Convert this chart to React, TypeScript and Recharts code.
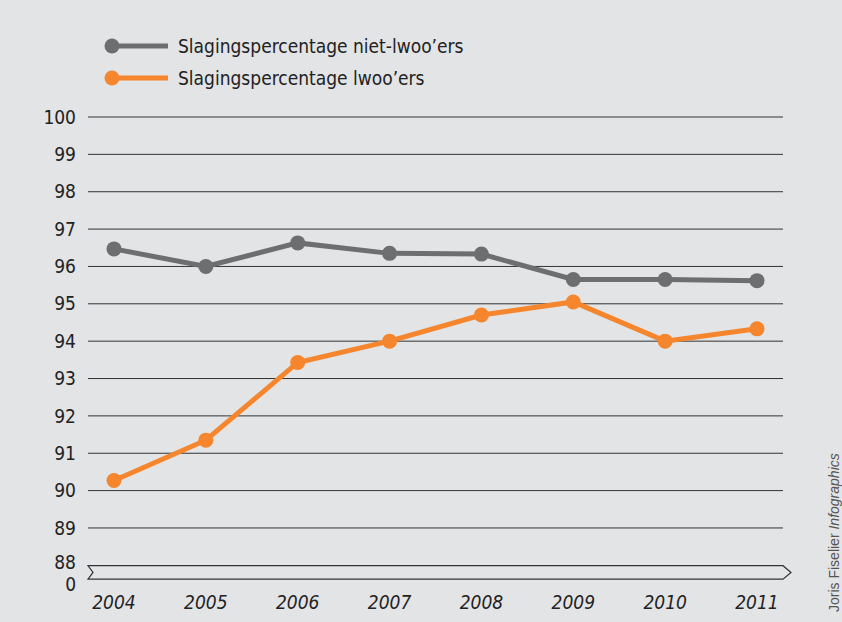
import React from 'react';
import { LineChart, Line, XAxis, YAxis, ReferenceLine, ReferenceArea, Legend } from 'recharts';

const years = ['2004', '2005', '2006', '2007', '2008', '2009', '2010', '2011'];
const nietLwoo = [96.47, 96.0, 96.63, 96.35, 96.33, 95.65, 95.65, 95.62];
const lwoo = [90.27, 91.35, 93.43, 94.0, 94.7, 95.05, 94.0, 94.33];
const yTicks = [87.5, 88, 89, 90, 91, 92, 93, 94, 95, 96, 97, 98, 99, 100];
const gridValues = [89, 90, 91, 92, 93, 94, 95, 96, 97, 98, 99, 100];

const data = years.map((year, i) => ({ year, nietLwoo: nietLwoo[i], lwoo: lwoo[i] }));

const GREY = '#6d6e70';
const ORANGE = '#f5862d';
const FONT = '"Liberation Sans Narrow", "DejaVu Sans Condensed", Arial, sans-serif';
const X_PAD = 26;

const legendItems = [
    { label: 'Slagingspercentage niet-lwoo\u2019ers', color: GREY },
    { label: 'Slagingspercentage lwoo\u2019ers', color: ORANGE },
];

const renderLegend = () => (
    <div>
        {legendItems.map((item) => (
            <div key={item.label} style={{ display: 'flex', alignItems: 'center', height: 32 }}>
                <svg width={72} height={20}>
                    <line x1={8} y1={10} x2={64} y2={10} stroke={item.color} strokeWidth={5} />
                    <circle cx={8} cy={10} r={7.5} fill={item.color} />
                </svg>
                <span style={{ fontSize: 19, color: '#222', marginLeft: 2 }}>{item.label}</span>
            </div>
        ))}
    </div>
);

// y ticks: the lowest one stands for the zero under the axis break
const YTick = (props: any) => {
    const { x, y, payload } = props;
    const v = payload.value;
    const label = v === 87.5 ? '0' : String(v);
    const shift = v === 88 ? -3 : 0;
    return (
        <text x={x} y={y + shift} dy="0.35em" textAnchor="end" fill="#222" fontSize={19} fontFamily={FONT}>
            {label}
        </text>
    );
};

// axis break band, drawn from the y-scale via ReferenceArea (widened over the x padding)
const BreakShape = (props: any) => {
    const { y, height } = props;
    const x = props.x - X_PAD;
    const width = props.width + 2 * X_PAD;
    const d = `M${x},${y} L${x + width},${y} L${x + width + 8},${y + height / 2} L${x + width},${y + height} L${x},${y + height} L${x + 5},${y + height / 2} Z`;
    return <path d={d} fill="#e3e4e6" stroke="#333" strokeWidth={1.2} />;
};

export default function App() {
    return (
        <div style={{ position: 'fixed', left: 0, top: 0, width: 842, height: 622, background: '#e3e4e6', fontFamily: FONT }}>
            <LineChart width={842} height={622} data={data} margin={{ top: 117, right: 59, bottom: 8, left: 0 }}>
                <XAxis
                    dataKey="year"
                    axisLine={false}
                    tickLine={false}
                    tickSize={0}
                    tickMargin={12}
                    height={30}
                    padding={{ left: X_PAD, right: X_PAD }}
                    tick={{ fill: '#222', fontSize: 19, fontStyle: 'italic', fontFamily: FONT }}
                />
                <YAxis
                    type="number"
                    domain={[87.5, 100]}
                    ticks={yTicks}
                    interval={0}
                    width={88}
                    axisLine={false}
                    tickLine={false}
                    tickSize={0}
                    tickMargin={12}
                    tick={<YTick />}
                />
                {gridValues.map((v) => (
                    <ReferenceLine key={v} y={v} stroke="#333" strokeWidth={1} />
                ))}
                <ReferenceArea y1={87.63} y2={87.99} ifOverflow="visible" shape={BreakShape} />
                <Legend
                    layout="horizontal"
                    verticalAlign="middle"
                    content={renderLegend}
                    wrapperStyle={{ top: 30, left: 104, width: 500 }}
                />
                <Line dataKey="nietLwoo" stroke={GREY} strokeWidth={5} dot={{ r: 7.5, fill: GREY, stroke: GREY, strokeWidth: 0 }} isAnimationActive={false} />
                <Line dataKey="lwoo" stroke={ORANGE} strokeWidth={5} dot={{ r: 7.5, fill: ORANGE, stroke: ORANGE, strokeWidth: 0 }} isAnimationActive={false} />
            </LineChart>
            <div
                style={{
                    position: 'absolute',
                    left: 826,
                    top: 612,
                    transform: 'rotate(-90deg)',
                    transformOrigin: 'left top',
                    whiteSpace: 'nowrap',
                    fontSize: 14,
                    color: '#555',
                    fontFamily: 'Arial, "Liberation Sans", sans-serif',
                }}
            >
                Joris Fiselier <i>Infographics</i>
            </div>
        </div>
    );
}
